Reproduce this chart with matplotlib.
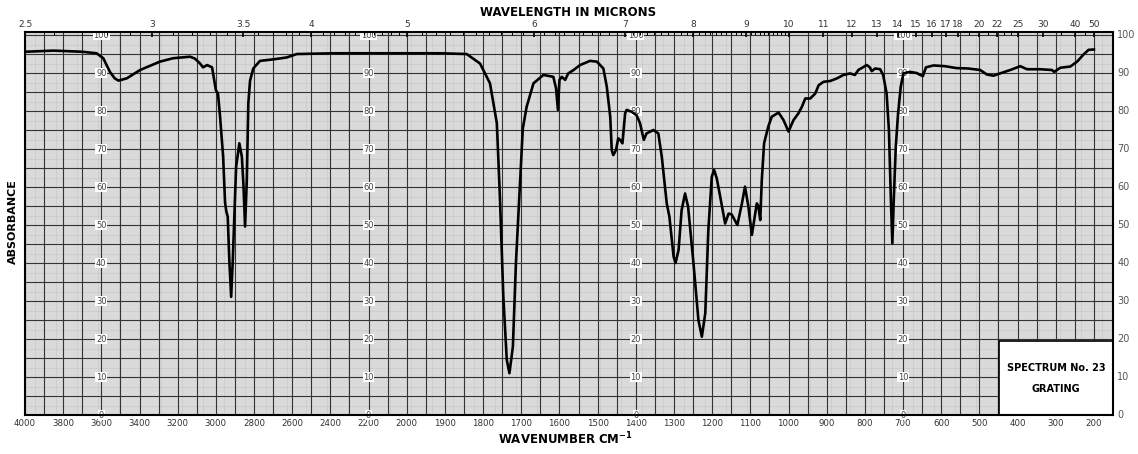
import numpy as np
import matplotlib
matplotlib.use("Agg")
import matplotlib.pyplot as plt
import matplotlib.transforms as mtransforms
from matplotlib.patches import Polygon

# spectrum (wavenumber cm-1, percent)
wavenumber = [4000, 3850, 3700, 3625, 3590, 3555, 3530, 3510, 3467, 3397, 3293, 3224, 3135, 3110,
              3083, 3067, 3046, 3020, 3008, 3000, 2989, 2978, 2962, 2952, 2945, 2938, 2929, 2920,
              2912, 2903, 2894, 2877, 2864, 2856, 2847, 2838, 2830, 2821, 2804, 2769, 2699, 2629,
              2576, 2385, 2140, 1913, 1843, 1808, 1782, 1764, 1756, 1747, 1738, 1731, 1722, 1714,
              1703, 1696, 1686, 1668, 1642, 1616, 1609, 1604, 1600, 1594, 1585, 1577, 1563, 1546,
              1520, 1502, 1485, 1476, 1467, 1463, 1459, 1452, 1446, 1441, 1435, 1428, 1424, 1411,
              1398, 1389, 1385, 1379, 1372, 1354, 1341, 1332, 1319, 1312, 1301, 1296, 1288, 1280,
              1271, 1263, 1249, 1236, 1227, 1218, 1210, 1201, 1195, 1188, 1179, 1166, 1157, 1149,
              1134, 1122, 1114, 1105, 1096, 1090, 1083, 1079, 1074, 1070, 1064, 1053, 1044, 1026,
              1013, 1000, 987, 974, 965, 956, 943, 930, 921, 908, 891, 873, 856, 839, 826, 817,
              795, 787, 782, 773, 760, 752, 743, 737, 732, 728, 724, 719, 713, 706, 699, 682, 664,
              655, 648, 640, 620, 590, 560, 530, 498, 480, 463, 446, 419, 393, 375, 341, 310, 304,
              288, 262, 244, 227, 214, 200]
percent = [95.6, 95.9, 95.6, 95.2, 93.9, 90.3, 88.6, 88.0, 88.6, 90.8, 93.0, 93.9, 94.3, 93.8,
           92.5, 91.5, 92.1, 91.5, 88.0, 85.5, 84.6, 78.5, 68.0, 56.0, 53.5, 52.2, 40.0, 31.1,
           40.0, 53.0, 65.3, 71.5, 68.0, 61.0, 49.6, 61.8, 82.0, 88.0, 91.2, 93.2, 93.6, 94.1,
           95.0, 95.2, 95.2, 95.2, 95.0, 92.5, 87.3, 76.8, 57.4, 31.1, 14.5, 11.0, 18.0, 40.0,
           61.8, 75.4, 81.1, 87.3, 89.5, 89.0, 86.0, 80.3, 88.2, 89.0, 88.2, 89.9, 90.8, 92.1,
           93.2, 93.0, 91.2, 86.4, 78.5, 69.7, 68.4, 69.7, 72.8, 72.4, 71.5, 79.4, 80.3, 79.8,
           78.9, 76.8, 75.0, 72.4, 74.1, 75.0, 74.1, 68.0, 55.7, 52.2, 41.7, 40.0, 43.4, 53.9,
           58.3, 54.8, 40.0, 25.0, 20.6, 26.8, 48.7, 62.7, 64.5, 62.3, 57.5, 50.4, 53.0, 52.8,
           50.0, 55.7, 60.1, 54.8, 47.4, 51.3, 55.7, 55.0, 51.3, 61.8, 71.5, 75.9, 78.5, 79.6,
           77.6, 74.6, 77.6, 79.4, 81.1, 83.3, 83.3, 84.6, 86.8, 87.7, 87.9, 88.6, 89.5, 89.9, 89.5, 90.8,
           92.1, 91.5, 90.5, 91.2, 91.0, 89.5, 84.6, 75.0, 57.4, 45.2, 57.4, 70.6, 79.4, 86.4, 89.9, 90.3, 90.0,
           89.5, 89.2, 91.5, 92.0, 91.8, 91.3, 91.2, 90.8, 89.6, 89.3, 89.9, 90.8, 91.8, 91.0, 91.0, 90.8, 90.3,
           91.4, 91.7, 93.0, 94.9, 96.1, 96.2]

bottom_ticks = [4000, 3800, 3600, 3400, 3200, 3000, 2800, 2600, 2400, 2200,
                2000, 1900, 1800, 1700, 1600, 1500, 1400, 1300, 1200, 1100,
                1000, 900, 800, 700, 600, 500, 400, 300, 200]
microns = [2.5, 3, 3.5, 4, 5, 6, 7, 8, 9, 10, 11, 12, 13, 14, 15, 16, 17, 18, 20, 22, 25, 30, 40, 50]
label_columns = [3600, 2200, 1400, 700]
levels = list(range(0, 101, 10))

YTOP = 100.8
XL, XR = 4000, 150


def fwd(v):
    v = np.asarray(v, float)
    return np.where(v > 2000, 2000 + (v - 2000) / 2, v)


def inv(u):
    u = np.asarray(u, float)
    return np.where(u > 2000, 2000 + (u - 2000) * 2, u)


fig = plt.figure(figsize=(11.38, 4.54), dpi=100)
ax = fig.add_axes([25 / 1138, 1 - 415 / 454, 1088 / 1138, 383 / 454])
ax.set_xscale('function', functions=(fwd, inv))
ax.set_xlim(XL, XR)
ax.set_ylim(0, YTOP)

# chart paper grid
fine_x = np.concatenate([np.arange(4000, 2000, -10), np.arange(2000, XR - 1, -5)])
dark_x = np.concatenate([np.arange(4000, 2000, -100), np.arange(2000, XR - 1, -50)])
ax.vlines(fine_x, 0, YTOP, color='#ababab', lw=0.35, zorder=0)
ax.hlines(np.arange(0, 100.6, 0.5), XL, XR, color='#ababab', lw=0.35, zorder=0)
ax.vlines(dark_x, 0, YTOP, color='#333333', lw=0.8, zorder=1)
ax.hlines(np.arange(0, 101, 5), XL, XR, color='#333333', lw=0.8, zorder=1)

ax.plot(wavenumber, percent, color='black', lw=1.9, zorder=5, solid_joinstyle='round')

# percent labels on the paper
for col in label_columns:
    for lv in levels:
        ax.text(col, lv, str(lv), fontsize=6, color='#444444', ha='center', va='center', zorder=3,
                bbox=dict(boxstyle='square,pad=0.08', fc='white', ec='none'))
for lv in levels:
    ax.text(1.004, lv / YTOP, str(lv), transform=ax.transAxes, fontsize=7, color='#555555',
            ha='left', va='center')

# spectrum box
ax.add_patch(Polygon([[449, 0], [XR, 0], [XR, 19.5], [449, 19.5]], closed=True, fc='white',
                     ec='black', lw=1.2, zorder=6))
ax.text(299, 12.4, 'SPECTRUM No. 23', fontsize=7, fontweight='bold', ha='center', va='center', zorder=7)
ax.text(299, 6.8, 'GRATING', fontsize=7, fontweight='bold', ha='center', va='center', zorder=7)

ax.set_xticks(bottom_ticks)
ax.set_xticklabels([str(t) for t in bottom_ticks], fontsize=6.2, color='#333333')
ax.tick_params(axis='x', length=0, pad=3)
ax.set_yticks([])
for sp in ax.spines.values():
    sp.set_linewidth(1.5)
    sp.set_zorder(8)

# wavelength scale along the top
trans = mtransforms.blended_transform_factory(ax.transData, ax.transAxes)
for m in microns:
    ax.text(10000 / m, 1.008, f'{m:g}', transform=trans, fontsize=6.5, color='#333333',
            ha='center', va='bottom')
ax.vlines([10000 / m for m in microns], YTOP - 1.2, YTOP, color='black', lw=1.2, zorder=8)
minor_um = [m / 10 for m in range(26, 100)] + list(range(10, 26)) + [35, 45]
minor_x = [10000 / m for m in minor_um if m not in microns and 10000 / m > XR]
ax.vlines(minor_x, YTOP - 0.7, YTOP, color='black', lw=0.7, zorder=8)

fig.text(568 / 1138, 1 - 13 / 454, 'WAVELENGTH IN MICRONS', fontsize=8.5, fontweight='bold',
         ha='center', va='center')
fig.text(565 / 1138, 1 - 439 / 454, 'WAVENUMBER CM$^{\\mathbf{-1}}$', fontsize=8.5, fontweight='bold',
         ha='center', va='center')
fig.text(13 / 1138, 1 - 222 / 454, 'ABSORBANCE', fontsize=8, fontweight='bold', rotation=90,
         ha='center', va='center')

fig.savefig('out.png', dpi=100)
